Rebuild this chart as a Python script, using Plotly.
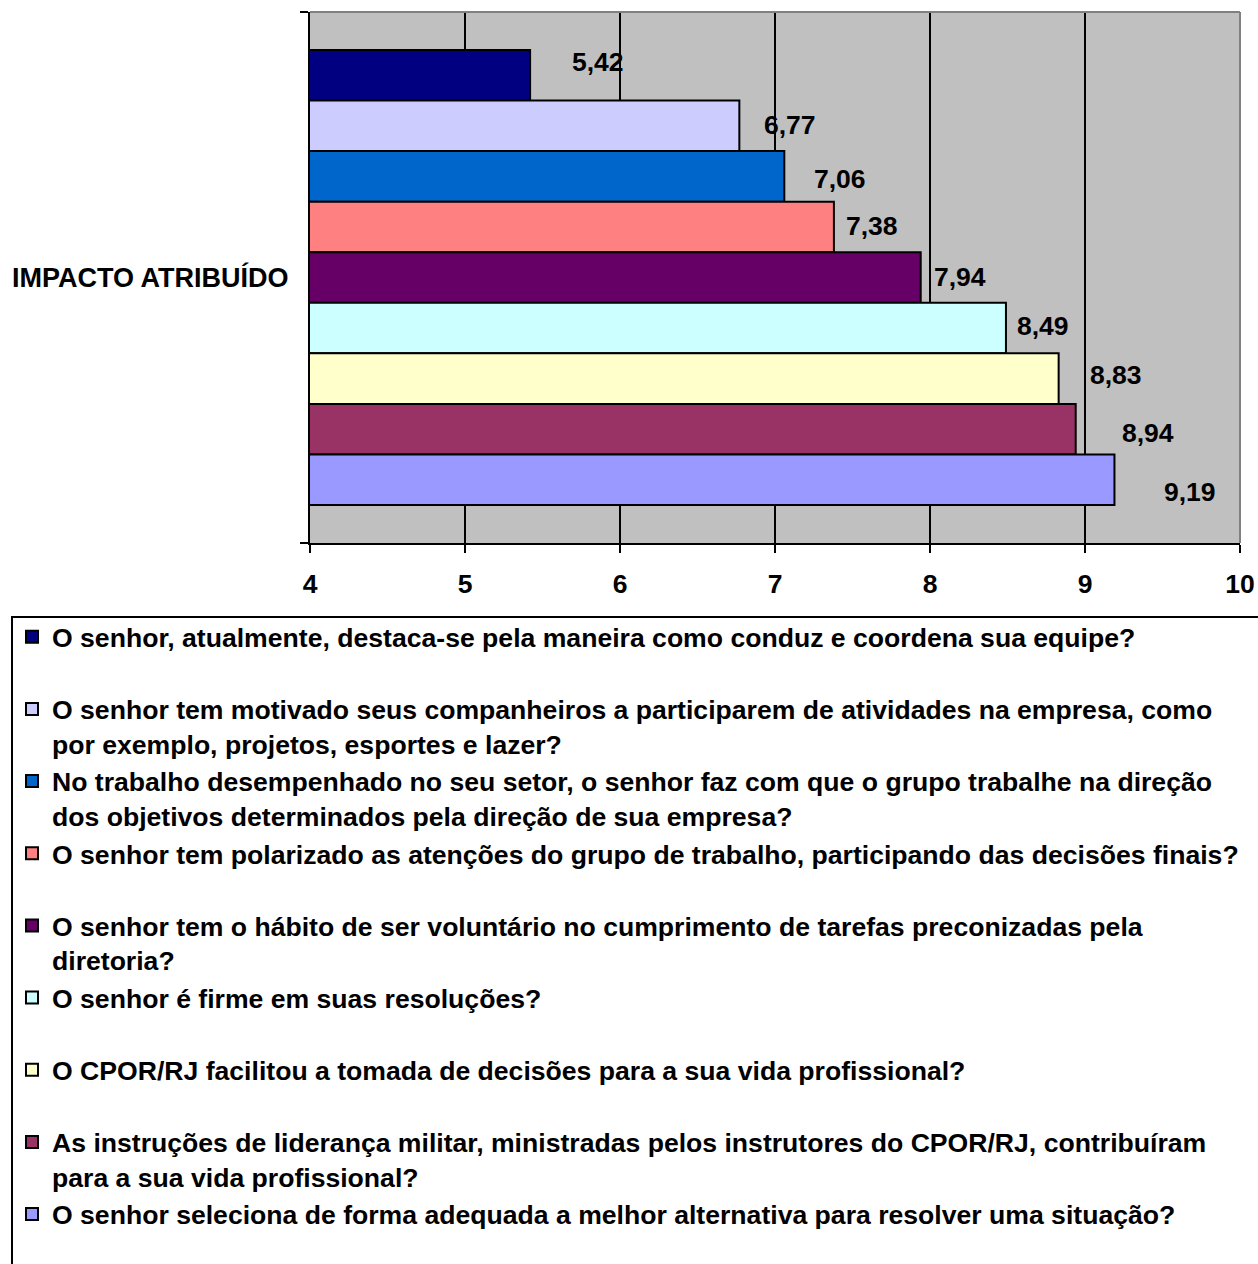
import plotly.graph_objects as go

category = ["IMPACTO ATRIBUÍDO"]
questions = [
    "O senhor, atualmente, destaca-se pela maneira como conduz e coordena sua equipe?",
    "O senhor tem motivado seus companheiros a participarem de atividades na empresa, como<br>por exemplo, projetos, esportes e lazer?",
    "No trabalho desempenhado no seu setor, o senhor faz com que o grupo trabalhe na direção<br>dos objetivos determinados pela direção de sua empresa?",
    "O senhor tem polarizado as atenções do grupo de trabalho, participando das decisões finais?",
    "O senhor tem o hábito de ser voluntário no cumprimento de tarefas preconizadas pela<br>diretoria?",
    "O senhor é firme em suas resoluções?",
    "O CPOR/RJ facilitou a tomada de decisões para a sua vida profissional?",
    "As instruções de liderança militar, ministradas pelos instrutores do CPOR/RJ, contribuíram<br>para a sua vida profissional?",
    "O senhor seleciona de forma adequada a melhor alternativa para resolver uma situação?",
]
values = [5.42, 6.77, 7.06, 7.38, 7.94, 8.49, 8.83, 8.94, 9.19]
colors = ["#000080", "#CCCCFF", "#0066CC", "#FF8080", "#660066",
          "#CCFFFF", "#FFFFCC", "#993366", "#9999FF"]
x_ticks = [4, 5, 6, 7, 8, 9, 10]

# label placement quirks (pixel offsets from bar end / bar centre)
label_dx = [40, 23, 28, 10, 11, 9, 29, 44, 48]
label_dy = [-13, -1, 3, -1, -1, -2, -4, 4, 12]

FONT = "Arial, Liberation Sans, sans-serif"
W, H = 1258, 1264
L, R, T, B = 310, 18, 12, 721
plot_w = W - L - R
plot_h = H - T - B
bargap = 0.143


def px_x(px):
    return (px - L) / plot_w


def px_y(py):
    return (H - B - py) / plot_h


fig = go.Figure()
n = len(values)
for i, (q, v, c) in enumerate(zip(questions, values, colors)):
    name = q if ("<br>" in q or i == n - 1) else q + "<br> "
    fig.add_trace(go.Bar(
        y=category, x=[v], orientation="h", name=name,
        marker=dict(color=c, line=dict(color="black", width=2)),
        legendgroup=f"g{i}",
    ))

for i, v in enumerate(values):
    frac = bargap / 2 + (1 - bargap) * (i + 0.5) / n
    fig.add_annotation(
        x=v, xref="x", y=1 - frac, yref="y domain",
        text=f"{v:.2f}".replace(".", ","), showarrow=False,
        xanchor="left", yanchor="middle",
        xshift=label_dx[i], yshift=-label_dy[i],
        font=dict(family=FONT, size=26.5, color="black", weight="bold"),
    )

# top and right border of plot area (grey)
fig.add_shape(type="line", xref="x domain", yref="y domain", x0=0, x1=1, y0=1, y1=1,
              line=dict(color="#808080", width=2), layer="above")
fig.add_shape(type="line", xref="x domain", yref="y domain", x0=1, x1=1, y0=0, y1=1,
              line=dict(color="#808080", width=2), layer="above")
# legend frame (extends beyond the page, as in the original)
fig.add_shape(type="rect", xref="paper", yref="paper",
              x0=px_x(12), x1=px_x(1320), y0=px_y(617), y1=px_y(1330),
              line=dict(color="black", width=2), fillcolor="white", layer="above")

fig.update_layout(
    width=W, height=H,
    margin=dict(l=L, r=R, t=T, b=B, autoexpand=False),
    barmode="group", bargap=bargap, bargroupgap=0,
    plot_bgcolor="#C0C0C0", paper_bgcolor="white",
    font=dict(family=FONT, size=26, color="black", weight="bold"),
    showlegend=True,
    legend=dict(
        x=px_x(12), y=px_y(613),
        xanchor="left", yanchor="top",
        bgcolor="rgba(0,0,0,0)", borderwidth=0,
        font=dict(family=FONT, size=26.6, color="black", weight="bold"),
        valign="top", traceorder="grouped", tracegroupgap=0,
    ),
    xaxis=dict(
        range=[4, 10], tickvals=x_ticks, ticktext=[str(t) for t in x_ticks],
        showgrid=True, gridcolor="black", gridwidth=2,
        showline=True, linecolor="black", linewidth=2,
        ticks="outside", ticklen=8, tickwidth=2, tickcolor="black",
        zeroline=False, ticklabelstandoff=8,
        tickfont=dict(family=FONT, size=26.5, color="black", weight="bold"),
    ),
    yaxis=dict(
        autorange="reversed", type="category",
        showline=True, linecolor="black", linewidth=2,
        ticks="outside", ticklen=8, tickwidth=2, tickcolor="black",
        tickson="boundaries", showgrid=False, ticklabelstandoff=14,
        tickfont=dict(family=FONT, size=27, color="black", weight="bold"),
    ),
)

fig.write_html("out.html")
